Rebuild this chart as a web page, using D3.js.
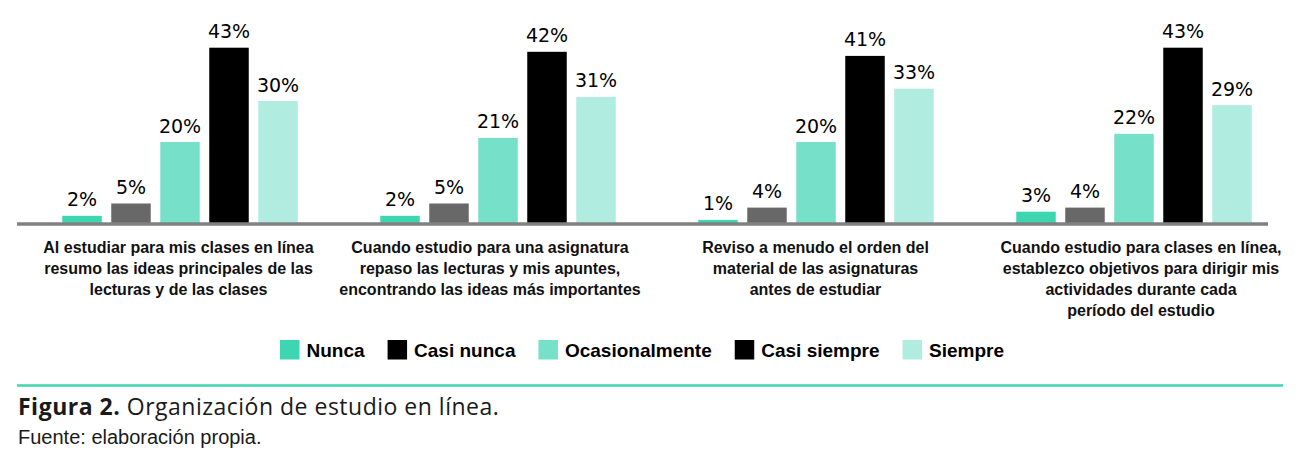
<!DOCTYPE html>
<html>
<head>
<meta charset="utf-8">
<script src="https://cdn.jsdelivr.net/npm/d3@7"></script>
<style>
  html, body { margin: 0; padding: 0; background: #fff; }
  svg { display: block; }
</style>
</head>
<body>
<svg id="chart" width="1305" height="470"></svg>
<script>
// ---- data ----
const categoryLines = [
  ["Al estudiar para mis clases en línea", "resumo las ideas principales de las", "lecturas y de las clases"],
  ["Cuando estudio para una asignatura", "repaso las lecturas y mis apuntes,", "encontrando las ideas más importantes"],
  ["Reviso a menudo el orden del", "material de las asignaturas", "antes de estudiar"],
  ["Cuando estudio para clases en línea,", "establezco objetivos para dirigir mis", "actividades durante cada", "período del estudio"]
];
const categories = categoryLines.map(l => l.join(" "));
const seriesNames = ["Nunca", "Casi nunca", "Ocasionalmente", "Casi siempre", "Siempre"];
const nunca          = [2, 2, 1, 3];
const casiNunca      = [5, 5, 4, 4];
const ocasionalmente = [20, 21, 20, 22];
const casiSiempre    = [43, 42, 41, 43];
const siempre        = [30, 31, 33, 29];
const seriesValues = [nunca, casiNunca, ocasionalmente, casiSiempre, siempre];
const figureTitle = "Organización de estudio en línea.";
const figureLabel = "Figura 2.";
const sourceText = "Fuente: elaboración propia.";

// ---- styles ----
const barColors    = ["#3dd6b0", "#686868", "#77e0c8", "#000000", "#b0ede0"];
const legendColors = ["#3dd6b0", "#000000", "#77e0c8", "#000000", "#b0ede0"];
const labelShift = [-1.5, -8, -0.5, 7];

const svg = d3.select("#chart");

const x0 = d3.scaleBand().domain(categories).range([21, 21 + 4 * 318]).paddingInner(0);
const x1 = d3.scaleBand().domain(seriesNames).range([-117.75, 117.75]).paddingInner(0.194).paddingOuter(0);
const y = d3.scaleLinear().domain([0, 50]).range([224, 224 - 205]);

const rows = [];
categories.forEach((c, ci) => {
  seriesNames.forEach((s, si) => {
    rows.push({ cat: c, ser: s, si, v: seriesValues[si][ci] });
  });
});

const g = svg.append("g");
g.selectAll("rect.bar").data(rows).join("rect")
  .attr("class", "bar")
  .attr("x", d => x0(d.cat) + x0.bandwidth() / 2 + x1(d.ser))
  .attr("width", x1.bandwidth())
  .attr("y", d => y(d.v))
  .attr("height", d => y(0) - y(d.v))
  .attr("fill", d => barColors[d.si]);

g.selectAll("text.val").data(rows).join("text")
  .attr("class", "val")
  .attr("x", d => x0(d.cat) + x0.bandwidth() / 2 + x1(d.ser) + x1.bandwidth() / 2)
  .attr("y", d => y(d.v) - 9.5)
  .attr("text-anchor", "middle")
  .attr("font-family", "DejaVu Sans, sans-serif")
  .attr("font-size", 19)
  .attr("fill", "#000")
  .text(d => d.v + "%");

// axis line
svg.append("line")
  .attr("x1", 17).attr("x2", 1268)
  .attr("y1", y(0)).attr("y2", y(0))
  .attr("stroke", "#808080").attr("stroke-width", 3.4);

// category labels
categories.forEach((c, ci) => {
  const t = svg.append("text")
    .attr("text-anchor", "middle")
    .attr("font-family", "Liberation Sans, Arial, sans-serif")
    .attr("font-weight", "bold")
    .attr("font-size", 16)
    .attr("fill", "#111");
  categoryLines[ci].forEach((line, j) => {
    t.append("tspan")
      .attr("x", x0(c) + x0.bandwidth() / 2 + labelShift[ci])
      .attr("y", 253 + 21 * j)
      .text(line);
  });
});

// legend
let lx = 280;
seriesNames.forEach((s, si) => {
  svg.append("rect").attr("x", lx).attr("y", 340).attr("width", 19.5).attr("height", 19.5)
    .attr("fill", legendColors[si]);
  const t = svg.append("text")
    .attr("x", lx + 26.5).attr("y", 356.5)
    .attr("font-family", "Liberation Sans, Arial, sans-serif")
    .attr("font-weight", "bold")
    .attr("font-size", 19)
    .attr("fill", "#000")
    .text(s);
  lx += 26.5 + t.node().getComputedTextLength() + 23;
});

// teal rule
svg.append("line").attr("x1", 17).attr("x2", 1283).attr("y1", 385.5).attr("y2", 385.5)
  .attr("stroke", "#3dd6b0").attr("stroke-width", 2.5);

// caption
const cap = svg.append("text").attr("x", 18).attr("y", 415)
  .attr("font-family", "Open Sans, sans-serif").attr("font-size", 23)
  .attr("letter-spacing", 0.5).attr("fill", "#1a1a1a");
cap.append("tspan").attr("font-weight", "bold").text(figureLabel);
cap.append("tspan").text(" " + figureTitle);

svg.append("text").attr("x", 18).attr("y", 444)
  .attr("font-family", "Liberation Sans, Arial, sans-serif").attr("font-size", 20).attr("fill", "#1a1a1a")
  .text(sourceText);
</script>
</body>
</html>
